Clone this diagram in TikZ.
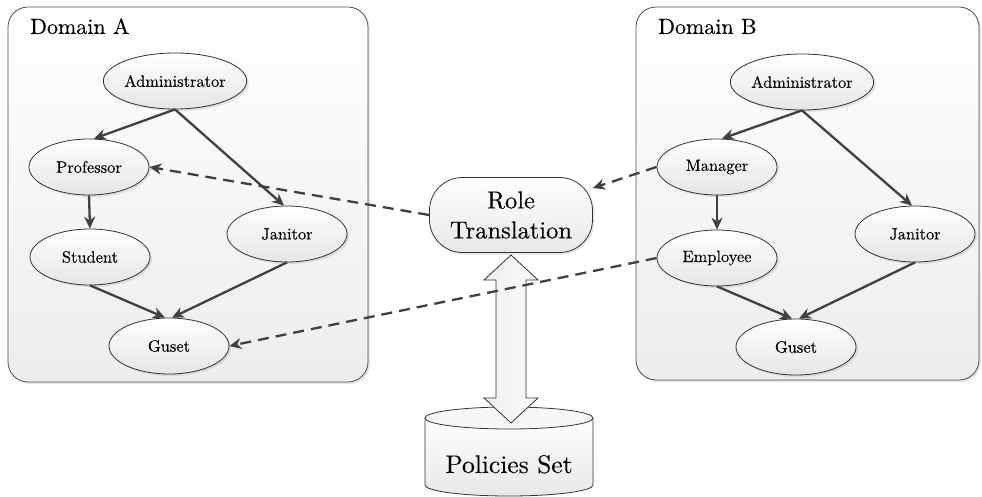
\documentclass[tikz,border=0pt]{standalone}
\usepackage{fontspec}
\newfontfamily\rmh{lmroman10-regular.otf}[FakeBold=0.15]
\usetikzlibrary{shapes.geometric,arrows.meta,shadows}
\definecolor{edgec}{HTML}{404040}
\begin{document}
\begin{tikzpicture}[x=1pt,y=-1pt,
  role/.style={ellipse, draw=black!80, line width=0.8pt, top color=white, bottom color=gray!20,
    minimum width=120pt, minimum height=56pt, inner sep=0pt, font=\rmh\fontsize{16.4}{19}\selectfont,
    drop shadow={shadow xshift=2pt,shadow yshift=-2pt,opacity=0.2}},
  dom/.style={draw=black!70, line width=0.8pt, rounded corners=20pt, top color=white, bottom color=gray!14,
    inner sep=0pt, drop shadow={shadow xshift=2pt,shadow yshift=-2pt,opacity=0.2}},
  link/.style={draw=edgec, line width=2.3pt, -{Stealth[length=12pt,width=11pt]}},
  trans/.style={link, dash pattern=on 11pt off 7pt},
  domlabel/.style={anchor=base west, inner sep=0pt, font=\rmh\fontsize{22}{26}\selectfont},
  bigtext/.style={font=\rmh\fontsize{24.5}{30}\selectfont, align=center, inner sep=0pt},
]
\useasboundingbox (0,0) rectangle (982,497);

% domain boxes
\node[dom, minimum width=360pt, minimum height=375pt] (domA) at (188,194.5) {};
\node[dom, minimum width=343pt, minimum height=373pt] (domB) at (807.5,193.5) {};
\node[domlabel] (labA) at (30,34) {Domain A};
\node[domlabel] (labB) at (658,34) {Domain B};

% domain A roles
\node[role] (aA) at (175,81) {Administrator};
\node[role] (pA) at (89,167) {Professor};
\node[role] (sA) at (90,257) {Student};
\node[role] (jA) at (287,234) {Janitor};
\node[role] (gA) at (169,346) {Guset};

% domain B roles
\node[role] (aB) at (802,82) {Administrator};
\node[role] (mB) at (717,167) {Manager};
\node[role] (eB) at (717,258) {Employee};
\node[role] (jB) at (915,234) {Janitor};
\node[role] (gB) at (796,347) {Guset};

% edges A
\draw[link] (aA.south) -- ([xshift=5pt]pA.north);
\draw[link] (aA.south) -- ([xshift=-3pt]jA.north);
\draw[link] (pA.south) -- (sA.north);
\draw[link] (sA.south) -- ([xshift=-4pt]gA.north);
\draw[link] (jA.south) -- ([xshift=3pt]gA.north);

% edges B
\draw[link] (aB.south) -- ([xshift=5pt]mB.north);
\draw[link] (aB.south) -- ([xshift=-3pt]jB.north);
\draw[link] (mB.south) -- (eB.north);
\draw[link] (eB.south) -- ([xshift=-4pt]gB.north);
\draw[link] (jB.south) -- ([xshift=3pt]gB.north);

% Policies set cylinder
\path[top color=white, bottom color=gray!18] (425,418) -- (425,485)
  arc[start angle=180,end angle=360,x radius=84pt,y radius=11pt] -- (593,418) -- cycle;
\draw[black!80, line width=0.8pt] (425,418) -- (425,485)
  arc[start angle=180,end angle=360,x radius=84pt,y radius=11pt] -- (593,418);
\draw[black!80, line width=0.8pt, fill=gray!6] (509,418) ellipse[x radius=84pt,y radius=11pt];
\node[bigtext, font=\rmh\fontsize{25.5}{30}\selectfont, anchor=base] (pol) at (509,473) {Policies Set};

% Role translation
\node[draw=black!80, line width=0.8pt, rounded corners=33pt, top color=white, bottom color=gray!18,
  minimum width=163pt, minimum height=75pt, bigtext,
  drop shadow={shadow xshift=2pt,shadow yshift=-2pt,opacity=0.2}] (rt) at (511,215) {Role\\Translation};

% double arrow between rt and policies
\draw[black!80, line width=0.8pt, left color=gray!12, right color=gray!4]
  (511,255) -- (538,280) -- (526,280) -- (526,398) -- (538,398) -- (511,423)
  -- (484,398) -- (496,398) -- (496,280) -- (484,280) -- cycle;

% translation links
\draw[trans] (rt.west) -- (pA.east);
\draw[trans] (mB.west) -- (rt);
\draw[trans] (eB.west) -- (gA.east);
\end{tikzpicture}
\end{document}
